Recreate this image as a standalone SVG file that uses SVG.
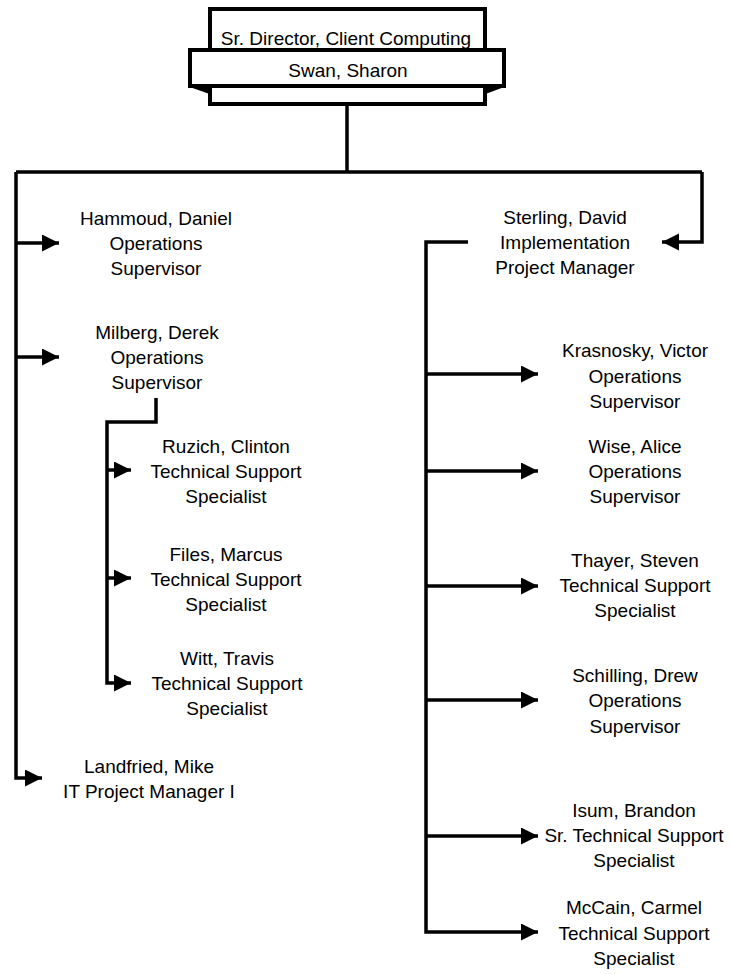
<svg xmlns="http://www.w3.org/2000/svg" width="731" height="974" viewBox="0 0 731 974">
<defs>
<marker id="arr" markerUnits="userSpaceOnUse" markerWidth="18" markerHeight="18" refX="17" refY="8.5" orient="auto">
<path d="M0,0 L17,8.5 L0,17 z" fill="#000"/>
</marker>
<style>
.t{font-family:"Liberation Sans",Arial,sans-serif;font-size:19px;fill:#000;text-anchor:middle}
.c{fill:none;stroke:#000;stroke-width:3.5}
.a{marker-end:url(#arr)}
.box{fill:#fff;stroke:#000;stroke-width:4}
</style>
</defs>
<rect width="731" height="974" fill="#fff"/>
<g id="connectors">
<path class="c" d="M347,104 V172 M16,172 H702"/>
<path class="c a" d="M16,172 V778 H42"/>
<path class="c a" d="M16,243 H59"/>
<path class="c a" d="M16,357 H59"/>
<path class="c a" d="M702,172 V242 H662"/>
<path class="c a" d="M156,398 V422 H107 V683 H131"/>
<path class="c a" d="M107,470 H131"/>
<path class="c a" d="M107,578 H131"/>
<path class="c a" d="M468,242 H426 V932 H538"/>
<path class="c a" d="M426,374 H538"/>
<path class="c a" d="M426,471 H538"/>
<path class="c a" d="M426,586 H538"/>
<path class="c a" d="M426,700 H538"/>
<path class="c a" d="M426,836 H538"/>
</g>
<g id="swan">
<rect class="box" x="210" y="9" width="275" height="95"/>
<text class="t" x="346" y="45">Sr. Director, Client Computing</text>
<path d="M190,86 L210,93 L210,86 Z M504,86 L485,93 L485,86 Z" fill="#000" stroke="#000" stroke-width="2"/>
<rect class="box" x="190" y="50" width="314" height="36"/>
<text class="t" x="348" y="77">Swan, Sharon</text>
</g>
<g id="hammoud"><text class="t"><tspan x="156" y="225">Hammoud, Daniel</tspan><tspan x="156" y="250">Operations</tspan><tspan x="156" y="275">Supervisor</tspan></text></g>
<g id="milberg"><text class="t"><tspan x="157" y="339">Milberg, Derek</tspan><tspan x="157" y="364">Operations</tspan><tspan x="157" y="389">Supervisor</tspan></text></g>
<g id="ruzich"><text class="t"><tspan x="226" y="453">Ruzich, Clinton</tspan><tspan x="226" y="478">Technical Support</tspan><tspan x="226" y="503">Specialist</tspan></text></g>
<g id="files"><text class="t"><tspan x="226" y="561">Files, Marcus</tspan><tspan x="226" y="586">Technical Support</tspan><tspan x="226" y="611">Specialist</tspan></text></g>
<g id="witt"><text class="t"><tspan x="227" y="665">Witt, Travis</tspan><tspan x="227" y="690">Technical Support</tspan><tspan x="227" y="715">Specialist</tspan></text></g>
<g id="landfried"><text class="t"><tspan x="149" y="773">Landfried, Mike</tspan><tspan x="149" y="798">IT Project Manager I</tspan></text></g>
<g id="sterling"><text class="t"><tspan x="565" y="224">Sterling, David</tspan><tspan x="565" y="249">Implementation</tspan><tspan x="565" y="274">Project Manager</tspan></text></g>
<g id="krasnosky"><text class="t"><tspan x="635" y="357">Krasnosky, Victor</tspan><tspan x="635" y="383">Operations</tspan><tspan x="635" y="408">Supervisor</tspan></text></g>
<g id="wise"><text class="t"><tspan x="635" y="453">Wise, Alice</tspan><tspan x="635" y="478">Operations</tspan><tspan x="635" y="503">Supervisor</tspan></text></g>
<g id="thayer"><text class="t"><tspan x="635" y="567">Thayer, Steven</tspan><tspan x="635" y="592">Technical Support</tspan><tspan x="635" y="617">Specialist</tspan></text></g>
<g id="schilling"><text class="t"><tspan x="635" y="682">Schilling, Drew</tspan><tspan x="635" y="707">Operations</tspan><tspan x="635" y="733">Supervisor</tspan></text></g>
<g id="isum"><text class="t"><tspan x="634" y="817">Isum, Brandon</tspan><tspan x="634" y="842">Sr. Technical Support</tspan><tspan x="634" y="867">Specialist</tspan></text></g>
<g id="mccain"><text class="t"><tspan x="634" y="914">McCain, Carmel</tspan><tspan x="634" y="940">Technical Support</tspan><tspan x="634" y="965">Specialist</tspan></text></g>
</svg>
